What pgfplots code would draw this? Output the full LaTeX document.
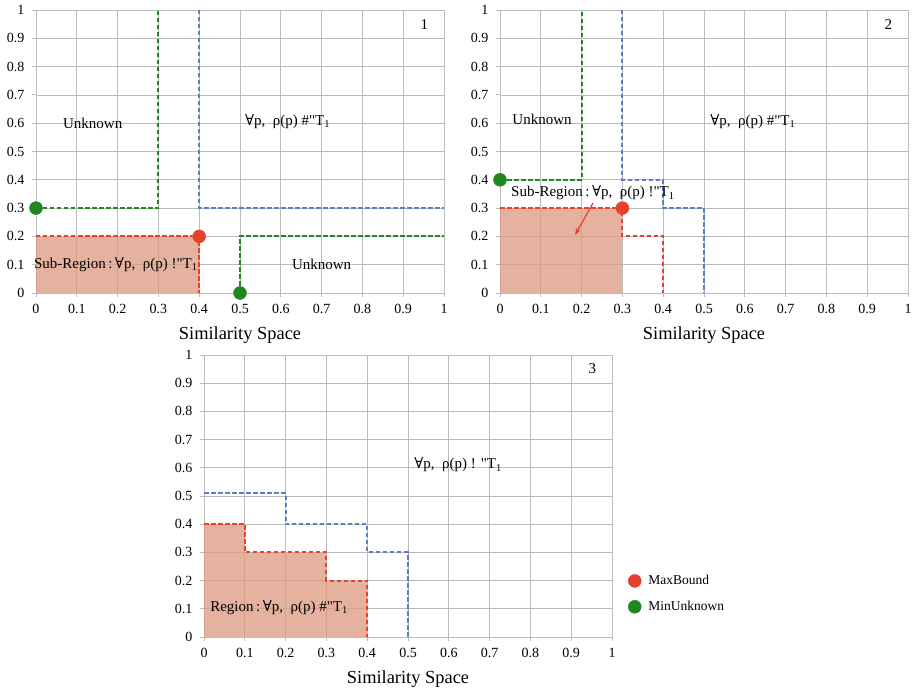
\documentclass[border=0pt]{standalone}
\usepackage{fontspec}
\setmainfont{Liberation Serif}
\newfontfamily\symfont{DejaVu Serif}
\newfontfamily\plainserif[Ligatures=TeXOff]{Liberation Serif}
\usepackage{pgfplots}
\pgfplotsset{compat=1.18}
\usetikzlibrary{arrows.meta}

\definecolor{boundred}{RGB}{228,66,44}
\definecolor{unkgreen}{RGB}{32,135,32}
\definecolor{limitblue}{RGB}{96,124,198}
\definecolor{regionfill}{RGB}{219,152,126}
\definecolor{gridgray}{RGB}{188,188,188}

\newcommand{\fa}{{\symfont ∀}}
\newcommand{\Tone}{T\textsubscript{1}}
\newcommand{\dq}{{\plainserif\symbol{34}}}

\tikzset{
  note/.style={anchor=west, font=\fontsize{15}{15}\selectfont, inner sep=0pt},
  panelno/.style={font=\fontsize{15}{15}\selectfont},
  bound/.style={line width=2.1pt, dash pattern=on 4.5pt off 2.5pt},
}

\pgfplotsset{
  simspace/.style={
    scale only axis, width=408pt, height=283pt,
    xmin=0, xmax=1, ymin=0, ymax=1,
    clip=false,
    xtick={0,0.1,0.2,0.3,0.4,0.5,0.6,0.7,0.8,0.9,1},
    ytick={0,0.1,0.2,0.3,0.4,0.5,0.6,0.7,0.8,0.9,1},
    xticklabels={0,0.1,0.2,0.3,0.4,0.5,0.6,0.7,0.8,0.9,1},
    yticklabels={0,0.1,0.2,0.3,0.4,0.5,0.6,0.7,0.8,0.9,1},
    grid=major,
    major grid style={gridgray, line width=0.7pt},
    axis line style={gridgray, line width=0.9pt},
    tick style={gridgray, line width=0.9pt},
    tick align=outside, major tick length=4pt,
    xtick pos=bottom, ytick pos=left,
    ticklabel style={font=\fontsize{14}{14}\selectfont},
    xticklabel style={yshift=-4pt},
    yticklabel style={xshift=-4pt},
    xlabel={Similarity Space},
    xlabel style={font=\fontsize{18.4}{18.4}\selectfont, yshift=-6pt},
  },
  region/.style={fill=regionfill, fill opacity=0.75, draw=none},
  dot/.style={only marks, mark=*, mark size=6.5pt},
}

\begin{document}
\begin{tikzpicture}
\useasboundingbox (0pt,0pt) rectangle (913pt,690pt);

% ---- Step 1 ----
\begin{axis}[simspace, at={(36pt,397pt)}, anchor=south west]
  \addplot[region] coordinates {(0,0) (0,0.2) (0.4,0.2) (0.4,0)} -- cycle;
  \addplot[bound, boundred] coordinates {(0,0.2) (0.4,0.2) (0.4,0)};
  \addplot[bound, unkgreen] coordinates {(0,0.3) (0.3,0.3) (0.3,1)};
  \addplot[bound, unkgreen] coordinates {(0.5,0) (0.5,0.2) (1,0.2)};
  \addplot[bound, limitblue] coordinates {(0.4,1) (0.4,0.3) (1,0.3)};
  \addplot[dot, boundred] coordinates {(0.4,0.2)};
  \addplot[dot, unkgreen] coordinates {(0,0.3) (0.5,0)};
  \node[note] at (axis cs:0.066,0.6) {Unknown};
  \node[note] at (axis cs:0.512,0.605) {\fa p,\ \ ρ(p) \#\dq\Tone};
  \node[note] at (axis cs:-0.005,0.1) {Sub-Region\,:\,\fa p,\ \ ρ(p) !\dq\Tone};
  \node[note] at (axis cs:0.627,0.1) {Unknown};
  \node[panelno] at (axis cs:0.952,0.95) {1};
\end{axis}

% ---- Step 2 ----
\begin{axis}[simspace, at={(500pt,397pt)}, anchor=south west]
  \addplot[region] coordinates {(0,0) (0,0.3) (0.3,0.3) (0.3,0)} -- cycle;
  \addplot[bound, boundred] coordinates {(0,0.3) (0.3,0.3) (0.3,0.2) (0.4,0.2) (0.4,0)};
  \addplot[bound, unkgreen] coordinates {(0,0.4) (0.2,0.4) (0.2,1)};
  \addplot[bound, limitblue] coordinates {(0.3,1) (0.3,0.4) (0.4,0.4) (0.4,0.3) (0.5,0.3) (0.5,0)};
  \addplot[boundred, line width=1.2pt, -{Stealth[length=7pt,width=5pt]}] coordinates {(0.228,0.318) (0.184,0.205)};
  \addplot[dot, boundred] coordinates {(0.3,0.3)};
  \addplot[dot, unkgreen] coordinates {(0,0.4)};
  \node[note] at (axis cs:0.03,0.615) {Unknown};
  \node[note] at (axis cs:0.515,0.605) {\fa p,\ \ ρ(p) \#\dq\Tone};
  \node[note] at (axis cs:0.027,0.353) {Sub-Region\,:\,\fa p,\ \ ρ(p) !\dq\Tone};
  \node[panelno] at (axis cs:0.952,0.95) {2};
\end{axis}

% ---- Step 3 ----
\begin{axis}[simspace, height=282pt, at={(204pt,53pt)}, anchor=south west,
    legend style={at={(rel axis cs:1.032,0.233)}, anchor=north west,
      draw=none, fill=none, row sep=11pt, column sep=5pt,
      font=\fontsize{13.5}{13.5}\selectfont},
    legend cell align=left,
    legend entries={MaxBound, MinUnknown}]
  \addlegendimage{dot, boundred}
  \addlegendimage{dot, unkgreen}
  \addplot[region] coordinates {(0,0) (0,0.4) (0.1,0.4) (0.1,0.3) (0.3,0.3) (0.3,0.2) (0.4,0.2) (0.4,0)} -- cycle;
  \addplot[bound, boundred] coordinates {(0,0.4) (0.1,0.4) (0.1,0.3) (0.3,0.3) (0.3,0.2) (0.4,0.2) (0.4,0)};
  \addplot[bound, limitblue] coordinates {(0,0.51) (0.2,0.51) (0.2,0.4) (0.4,0.4) (0.4,0.3) (0.5,0.3) (0.5,0)};
  \node[note] at (axis cs:0.515,0.61) {\fa p,\ \ ρ(p) ! \dq\Tone};
  \node[note] at (axis cs:0.015,0.103) {Region\,:\,\fa p,\ \ ρ(p) \#\dq\Tone};
  \node[panelno] at (axis cs:0.952,0.95) {3};
\end{axis}
\end{tikzpicture}
\end{document}
